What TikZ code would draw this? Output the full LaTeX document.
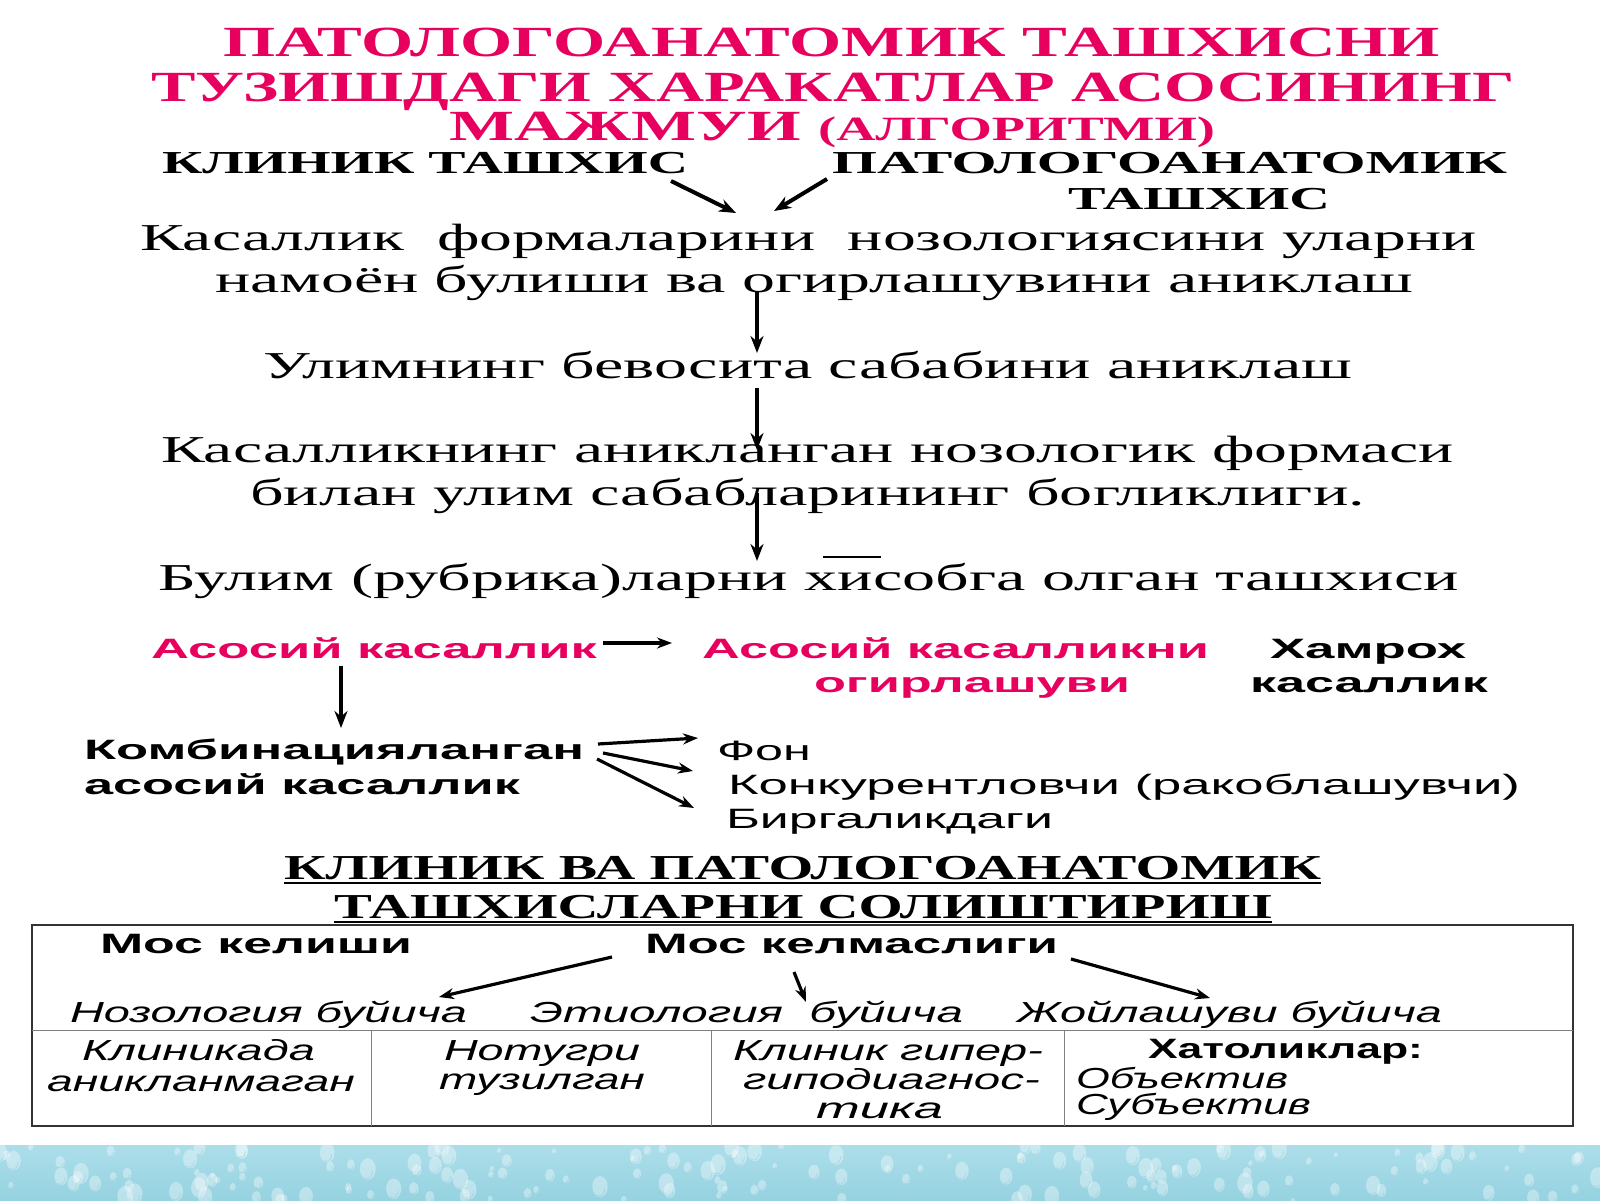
\documentclass[tikz,border=0pt]{standalone}
\usepackage{fontspec}
\setmainfont{Liberation Serif}
\setsansfont{Liberation Sans}
\usetikzlibrary{arrows.meta}
\definecolor{mag}{RGB}{232,0,95}
\definecolor{stripA}{RGB}{172,222,234}
\definecolor{stripB}{RGB}{150,210,224}
\definecolor{dropc}{RGB}{120,190,208}
\newcommand{\fitw}[2]{\resizebox{#1pt}{\height}{#2}}
\begin{document}
\begin{tikzpicture}[x=1pt,y=-1pt,
  txt/.style={anchor=base west,inner sep=0pt,outer sep=0pt},
  ttl/.style={txt,text=mag,font=\fontsize{43}{43}\selectfont\bfseries},
  hdr/.style={txt,font=\fontsize{32}{32}\selectfont\bfseries},
  body/.style={txt,font=\fontsize{38}{38}\selectfont},
  msb/.style={txt,text=mag,font=\sffamily\fontsize{28}{28}\selectfont\bfseries},
  ksb/.style={txt,font=\sffamily\fontsize{28}{28}\selectfont\bfseries},
  sreg/.style={txt,font=\sffamily\fontsize{28}{28}\selectfont},
  sit/.style={txt,font=\sffamily\itshape\fontsize{29}{29}\selectfont},
  sbs/.style={txt,font=\sffamily\bfseries\fontsize{28}{28}\selectfont},
  hdr2/.style={txt,font=\fontsize{35}{35}\selectfont\bfseries},
  arr/.style={-{Stealth[length=17pt,width=13pt]},line width=4pt},
  arrs/.style={-{Stealth[length=15pt,width=11pt]},line width=3.2pt},
]
\useasboundingbox (0,0) rectangle (1600,1200);
\fill[white] (0,0) rectangle (1600,1200);
% bottom decorative strip
\shade[top color=stripA,bottom color=stripB] (0,1145) rectangle (1600,1200);
\begin{scope}
\clip (0,1145) rectangle (1600,1200);
\pgfmathsetseed{7}
\foreach \i in {1,...,170}{
  \pgfmathsetmacro\xx{rnd*1600}
  \pgfmathsetmacro\yy{1145+rnd*56}
  \pgfmathsetmacro\rr{2+rnd*6}
  \fill[white,opacity=0.35] (\xx,\yy) ellipse ({\rr} and {1.35*\rr});
  \draw[dropc,opacity=0.4,line width=0.6pt] (\xx+0.6*\rr,\yy+0.2*\rr) arc (0:120:{0.7*\rr} and {\rr});
}
\end{scope}

% title
\node[ttl] (t1) at (223,56) {\fitw{1217}{ПАТОЛОГОАНАТОМИК ТАШХИСНИ}};
\node[ttl] (t2) at (151,101) {\fitw{1364}{ТУЗИШДАГИ ХАРАКАТЛАР АСОСИНИНГ}};
\node[ttl] (t3) at (449,140) {\fitw{766}{МАЖМУИ {\fontsize{34}{34}\selectfont(АЛГОРИТМИ)}}};

% two diagnoses
\node[hdr] (klin) at (162,173) {\fitw{526}{КЛИНИК ТАШХИС}};
\node[hdr] (pat1) at (832,173) {\fitw{675}{ПАТОЛОГОАНАТОМИК}};
\node[hdr] (pat2) at (1068,209) {\fitw{262}{ТАШХИС}};
\coordinate (a1s) at (671,181);
\coordinate (a1e) at (736,213);
\coordinate (a2s) at (827,179);
\coordinate (a2e) at (774,211);
\draw[arr] (a1s) -- (a1e);
\draw[arr] (a2s) -- (a2e);

% main chain
\node[body] (s1a) at (140,250) {\fitw{1337}{Касаллик\ \ формаларини\ \ нозологиясини уларни}};
\node[body] (s1b) at (215,292) {\fitw{1198}{намоён булиши ва огирлашувини аниклаш}};
\node[body] (s2) at (263,378) {\fitw{1089}{Улимнинг бевосита сабабини аниклаш}};
\node[body] (s3a) at (161,462) {\fitw{1293}{Касалликнинг аникланган нозологик формаси}};
\node[body] (s3b) at (250,505) {\fitw{1115}{билан улим сабабларининг богликлиги.}};
\node[body] (s4) at (158,590) {\fitw{1301}{Булим (рубрика)ларни хисобга олган ташхиси}};
\coordinate (v1s) at (757,292);
\coordinate (v1e) at (757,353);
\coordinate (v2s) at (757,388);
\coordinate (v2e) at (757,450);
\coordinate (v3s) at (757,493);
\coordinate (v3e) at (757,561);
\draw[arr] (v1s) -- (v1e);
\draw[arr] (v2s) -- (v2e);
\draw[arr] (v3s) -- (v3e);
\coordinate (ovs) at (823,557);
\coordinate (ove) at (881,557);
\draw[line width=2pt] (ovs) -- (ove);

% disease categories
\node[msb] (ak) at (151,658) {\fitw{446}{Асосий касаллик}};
\node[msb] (akn1) at (702,658) {\fitw{507}{Асосий касалликни}};
\node[msb] (akn2) at (814,692) {\fitw{316}{огирлашуви}};
\node[ksb] (hk1) at (1270,658) {\fitw{196}{Хамрох}};
\node[ksb] (hk2) at (1250,692) {\fitw{238}{касаллик}};
\coordinate (h1s) at (603,643);
\coordinate (h1e) at (672,643);
\draw[arrs] (h1s) -- (h1e);
\coordinate (d1s) at (341,666);
\coordinate (d1e) at (341,728);
\draw[arr] (d1s) -- (d1e);

\node[ksb] (kb1) at (84,759) {\fitw{500}{Комбинацияланган}};
\node[ksb] (kb2) at (84,794) {\fitw{436}{асосий касаллик}};
\node[sreg] (fon) at (717,760) {\fitw{94}{Фон}};
\node[sreg] (kon) at (728,794) {\fitw{792}{Конкурентловчи (ракоблашувчи)}};
\node[sreg] (bir) at (726,828) {\fitw{327}{Биргаликдаги}};
\coordinate (c1s) at (598,744);
\coordinate (c1e) at (698,738);
\coordinate (c2s) at (603,753);
\coordinate (c2e) at (693,771);
\coordinate (c3s) at (597,759);
\coordinate (c3e) at (694,808);
\draw[arrs] (c1s) -- (c1e);
\draw[arrs] (c2s) -- (c2e);
\draw[arrs] (c3s) -- (c3e);

% comparison header
\node[hdr2] (cmp1) at (284,879) {\fitw{1037}{КЛИНИК ВА ПАТОЛОГОАНАТОМИК}};
\node[hdr2] (cmp2) at (334,918) {\fitw{938}{ТАШХИСЛАРНИ СОЛИШТИРИШ}};
\draw[line width=2.4pt] (cmp1.base west) ++(0,4) -- ++(1037,0);
\draw[line width=2.4pt] (cmp2.base west) ++(0,4) -- ++(938,0);

% table
\draw[line width=2pt,black!80] (32,925) rectangle (1573,1126);
\draw[line width=1pt,black!50] (32,1030) -- (1573,1030);
\draw[line width=1pt,black!50] (371,1030) -- (371,1126);
\draw[line width=1pt,black!50] (711,1030) -- (711,1126);
\draw[line width=1pt,black!50] (1064,1030) -- (1064,1126);

\node[ksb] (mk) at (100,953) {\fitw{312}{Мос келиши}};
\node[ksb] (mkm) at (645,953) {\fitw{413}{Мос келмаслиги}};
\node[sit] (noz) at (70,1022) {\fitw{397}{Нозология буйича}};
\node[sit] (eti) at (530,1022) {\fitw{433}{Этиология\ \ буйича}};
\node[sit] (joy) at (1017,1022) {\fitw{425}{Жойлашуви буйича}};
\coordinate (m1s) at (612,957);
\coordinate (m1e) at (439,997);
\coordinate (m2s) at (794,972);
\coordinate (m2e) at (806,1002);
\coordinate (m3s) at (1071,959);
\coordinate (m3e) at (1210,998);
\draw[arrs] (m1s) -- (m1e);
\draw[arrs] (m2s) -- (m2e);
\draw[arrs] (m3s) -- (m3e);

\node[sit] (c11) at (82,1060) {\fitw{233}{Клиникада}};
\node[sit] (c12) at (47,1091) {\fitw{308}{аникланмаган}};
\node[sit] (c21) at (444,1060) {\fitw{196}{Нотугри}};
\node[sit] (c22) at (439,1089) {\fitw{206}{тузилган}};
\node[sit] (c31) at (733,1060) {\fitw{310}{Клиник гипер-}};
\node[sit] (c32) at (743,1089) {\fitw{297}{гиподиагнос-}};
\node[sit] (c33) at (816,1118) {\fitw{127}{тика}};
\node[sbs] (c41) at (1148,1058) {\fitw{275}{Хатоликлар:}};
\node[sit] (c42) at (1076,1088) {\fitw{212}{Объектив}};
\node[sit] (c43) at (1076,1114) {\fitw{235}{Субъектив}};
\end{tikzpicture}
\end{document}
